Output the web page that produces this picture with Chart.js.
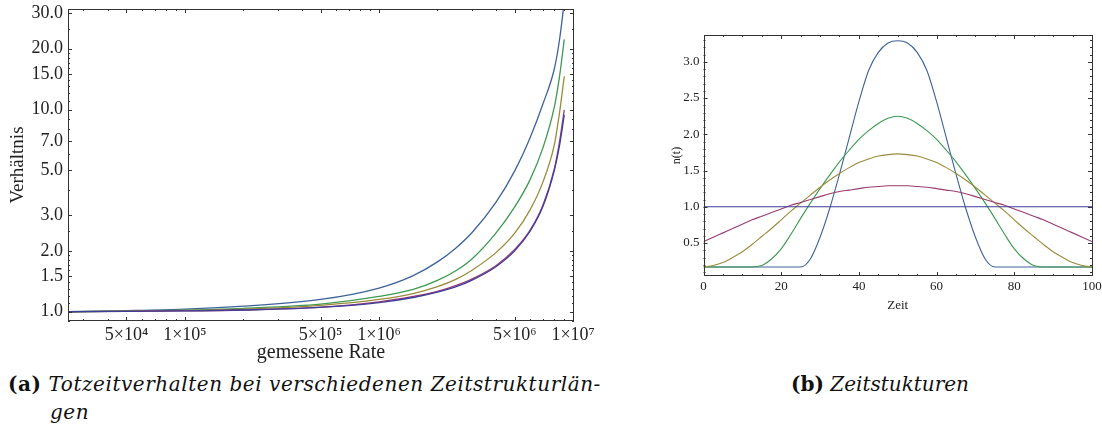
<!DOCTYPE html>
<html>
<head>
<meta charset="utf-8">
<script src="https://cdn.jsdelivr.net/npm/chart.js@4/dist/chart.umd.min.js"></script>
<style>
  body { margin: 0; background: #fff; }
  #page { position: relative; width: 1102px; height: 441px; overflow: hidden; }
  canvas { position: absolute; }
  .cap { position: absolute; font: italic 20px "DejaVu Serif", serif; color: #111; white-space: nowrap; }
  .cap b { font-style: normal; }
</style>
</head>
<body>
<div id="page">
  <canvas id="totzeit" width="600" height="370" style="left:0;top:0"></canvas>
  <canvas id="struktur" width="502" height="320" style="left:600px;top:0"></canvas>
  <div class="cap" style="left:8px;top:372px;letter-spacing:0.55px"><b>(a)</b> Totzeitverhalten bei verschiedenen Zeitstrukturlän-</div>
  <div class="cap" style="left:50px;top:400px;letter-spacing:0.55px">gen</div>
  <div class="cap" style="left:791px;top:372px"><b>(b)</b> Zeitstukturen</div>
</div>
<script>
// (a) Totzeitverhalten: Verhältnis über gemessener Rate
var rates = [2.5e4, 5e4, 1e5, 2e5, 5e5, 1e6, 1.5e6, 2e6, 2.5e6, 3e6, 4e6, 5e6, 6e6, 7e6, 8e6, 8.5e6, 9e6];
var ratioKonst  = [1.00, 1.005, 1.01, 1.02, 1.05, 1.11, 1.176, 1.25, 1.33, 1.43, 1.67, 2.00, 2.50, 3.33, 5.00, 6.60, 9.40];
var ratioSinus  = [1.00, 1.005, 1.01, 1.02, 1.055, 1.12, 1.19, 1.26, 1.35, 1.45, 1.69, 2.03, 2.53, 3.38, 5.10, 6.90, 9.95];
var ratioBreit  = [1.00, 1.007, 1.015, 1.03, 1.075, 1.15, 1.23, 1.33, 1.45, 1.60, 1.96, 2.45, 3.19, 4.40, 6.70, 9.60, 14.6];
var ratioMittel = [1.00, 1.008, 1.018, 1.04, 1.09, 1.19, 1.29, 1.43, 1.60, 1.82, 2.45, 3.30, 4.50, 6.50, 10.3, 14.5, 22.2];
var ratioSchmal = [1.00, 1.012, 1.03, 1.065, 1.15, 1.31, 1.51, 1.765, 2.075, 2.45, 3.47, 4.97, 7.25, 10.7, 15.9, 22.0, 34.0];
var rateTicks = [5e4, 1e5, 5e5, 1e6, 5e6, 1e7];
var rateTickLabels = ["5×10⁴", "1×10⁵", "5×10⁵", "1×10⁶", "5×10⁶", "1×10⁷"];
var ratioTicks = [1, 1.5, 2, 3, 5, 7, 10, 15, 20, 30];

// (b) Zeitstrukturen: n(t) über Zeit
var zeit = [0, 2.5, 5, 7.5, 10, 12.5, 15, 17.5, 20, 22.5, 25, 27.5, 30, 32.5, 35, 37.5, 40, 42.5, 45, 47.5, 50,
            52.5, 55, 57.5, 60, 62.5, 65, 67.5, 70, 72.5, 75, 77.5, 80, 82.5, 85, 87.5, 90, 92.5, 95, 97.5, 100];
var nKonst = [1,1,1,1,1,1,1,1,1,1,1,1,1,1,1,1,1,1,1,1,1, 1,1,1,1,1,1,1,1,1,1,1,1,1,1,1,1,1,1,1,1];
var nSinus = [0.52,0.58,0.64,0.70,0.76,0.82,0.87,0.92,0.97,1.02,1.06,1.10,1.14,1.18,1.21,1.23,1.25,1.27,1.28,1.29,1.29,
              1.29,1.28,1.27,1.25,1.23,1.21,1.18,1.14,1.10,1.06,1.02,0.97,0.92,0.87,0.82,0.76,0.70,0.64,0.58,0.52];
var nBreit = [0.17,0.19,0.23,0.30,0.38,0.48,0.59,0.70,0.82,0.94,1.05,1.16,1.27,1.37,1.46,1.54,1.61,1.66,1.70,1.72,1.73,
              1.72,1.70,1.66,1.61,1.54,1.46,1.37,1.27,1.16,1.05,0.94,0.82,0.70,0.59,0.48,0.38,0.30,0.23,0.19,0.17];
var nMittel = [0.17,0.17,0.17,0.17,0.17,0.17,0.19,0.28,0.42,0.62,0.84,1.05,1.25,1.44,1.62,1.78,1.93,2.05,2.15,2.22,2.25,
               2.22,2.15,2.05,1.93,1.78,1.62,1.44,1.25,1.05,0.84,0.62,0.42,0.28,0.19,0.17,0.17,0.17,0.17,0.17,0.17];
var nSchmal = [0.17,0.17,0.17,0.17,0.17,0.17,0.17,0.17,0.17,0.17,0.17,0.28,0.58,0.98,1.45,1.95,2.45,2.88,3.13,3.26,3.29,
               3.26,3.13,2.88,2.45,1.95,1.45,0.98,0.58,0.28,0.17,0.17,0.17,0.17,0.17,0.17,0.17,0.17,0.17,0.17,0.17];
var zeitTicks = [0, 20, 40, 60, 80, 100];
var nTicks = [0.5, 1.0, 1.5, 2.0, 2.5, 3.0];

var farben = ["#3F3D99", "#993D71", "#998B3D", "#3D9951", "#3D6299"];

function punkte(xs, ys) {
    return xs.map(function (x, i) { return {x: x, y: ys[i]}; });
}

function reihe(xs, ys, farbe, breite) {
    return {
        data: punkte(xs, ys),
        borderColor: farbe,
        borderWidth: breite,
        pointRadius: 0,
        fill: false,
        cubicInterpolationMode: 'monotone'
    };
}

// Rahmen mit Ticks nach innen, wie bei Mathematica
var rahmen = {
    id: 'rahmen',
    afterDatasetsDraw: function (chart, args, o) {
        var ctx = chart.ctx, a = chart.chartArea, sx = chart.scales.x, sy = chart.scales.y;
        ctx.save();
        ctx.strokeStyle = '#333';
        ctx.lineWidth = 1;
        ctx.beginPath();
        function xMarks(vals, len) {
            vals.forEach(function (v) {
                if (v < sx.min || v > sx.max) return;
                var p = Math.round(sx.getPixelForValue(v)) + 0.5;
                ctx.moveTo(p, a.bottom); ctx.lineTo(p, a.bottom - len);
                ctx.moveTo(p, a.top); ctx.lineTo(p, a.top + len);
            });
        }
        function yMarks(vals, len) {
            vals.forEach(function (v) {
                if (v < sy.min || v > sy.max) return;
                var p = Math.round(sy.getPixelForValue(v)) + 0.5;
                ctx.moveTo(a.left, p); ctx.lineTo(a.left + len, p);
                ctx.moveTo(a.right, p); ctx.lineTo(a.right - len, p);
            });
        }
        xMarks(o.xMajor, 4); xMarks(o.xMinor, 2);
        yMarks(o.yMajor, 4); yMarks(o.yMinor, 2);
        ctx.stroke();
        ctx.strokeRect(Math.round(a.left) + 0.5, Math.round(a.top) + 0.5,
                       Math.round(a.right - a.left) - 1, Math.round(a.bottom - a.top) - 1);
        ctx.restore();
    }
};

var serif = 'Liberation Serif, DejaVu Serif, serif';
var schriftA = {family: serif, size: 18};
var schriftB = {family: serif, size: 13};

var rateMinor = [3e4,4e4,6e4,7e4,8e4,9e4, 2e5,3e5,4e5,6e5,7e5,8e5,9e5, 2e6,3e6,4e6,6e6,7e6,8e6,9e6];
var ratioMinor = [0.9,1.1,1.2,1.3,1.4,1.6,1.7,1.8,1.9,2.5,4,6,8,9,11,12,13,14,16,17,18,19,25];

new Chart(document.getElementById('totzeit').getContext('2d'), {
    type: 'line',
    data: {
        datasets: [
            reihe(rates, ratioKonst, farben[0], 1.3),
            reihe(rates, ratioSinus, farben[1], 1.3),
            reihe(rates, ratioBreit, farben[2], 1.3),
            reihe(rates, ratioMittel, farben[3], 1.3),
            reihe(rates, ratioSchmal, farben[4], 1.3)
        ]
    },
    options: {
        responsive: false,
        animation: false,
        layout: {padding: {top: 9, right: 26, left: 0, bottom: 0}},
        plugins: {
            legend: {display: false},
            tooltip: {enabled: false},
            rahmen: {xMajor: rateTicks, xMinor: rateMinor, yMajor: ratioTicks, yMinor: ratioMinor}
        },
        scales: {
            x: {
                type: 'logarithmic', min: 2.5e4, max: 1.01e7,
                grid: {display: false, drawTicks: false},
                border: {display: false},
                afterBuildTicks: function (s) { s.ticks = rateTicks.map(function (v) { return {value: v}; }); },
                afterFit: function (s) { s.height = 49; s.paddingLeft = 0; s.paddingRight = 0; },
                ticks: {
                    autoSkip: false, maxRotation: 0, padding: 3, color: '#222', font: schriftA,
                    callback: function (v, i) { return rateTickLabels[i]; }
                },
                title: {display: true, text: 'gemessene Rate', color: '#222',
                        font: {family: serif, size: 20}, padding: {top: 0, bottom: 5}}
            },
            y: {
                type: 'logarithmic', min: 0.9, max: 31.4,
                grid: {display: false, drawTicks: false},
                border: {display: false},
                afterBuildTicks: function (s) { s.ticks = ratioTicks.map(function (v) { return {value: v}; }); },
                afterFit: function (s) { s.width = 68; s.paddingTop = 0; s.paddingBottom = 0; },
                ticks: {
                    autoSkip: false, padding: 5, color: '#222', font: schriftA,
                    callback: function (v) { return Number(v).toFixed(1); }
                },
                title: {display: true, text: 'Verhältnis', color: '#222',
                        font: {family: serif, size: 19}, padding: {top: 7, bottom: 0}}
            }
        }
    },
    plugins: [rahmen]
});

var zeitMinor = [5,10,15,25,30,35,45,50,55,65,70,75,85,90,95];
var nMinor = [0.1,0.2,0.3,0.4,0.6,0.7,0.8,0.9,1.1,1.2,1.3,1.4,1.6,1.7,1.8,1.9,2.1,2.2,2.3,2.4,2.6,2.7,2.8,2.9,3.1,3.2,3.3];

new Chart(document.getElementById('struktur').getContext('2d'), {
    type: 'line',
    data: {
        datasets: [
            reihe(zeit, nKonst, farben[0], 1.1),
            reihe(zeit, nSinus, farben[1], 1.1),
            reihe(zeit, nBreit, farben[2], 1.1),
            reihe(zeit, nMittel, farben[3], 1.1),
            reihe(zeit, nSchmal, farben[4], 1.1)
        ]
    },
    options: {
        responsive: false,
        animation: false,
        layout: {padding: {top: 35, right: 10, left: 0, bottom: 0}},
        plugins: {
            legend: {display: false},
            tooltip: {enabled: false},
            rahmen: {xMajor: zeitTicks, xMinor: zeitMinor, yMajor: nTicks, yMinor: nMinor}
        },
        scales: {
            x: {
                type: 'linear', min: 0, max: 100,
                grid: {display: false, drawTicks: false},
                border: {display: false},
                afterBuildTicks: function (s) { s.ticks = zeitTicks.map(function (v) { return {value: v}; }); },
                afterFit: function (s) { s.height = 44; s.paddingLeft = 0; s.paddingRight = 0; },
                ticks: {autoSkip: false, maxRotation: 0, padding: 3, color: '#222', font: schriftB},
                title: {display: true, text: 'Zeit', color: '#222',
                        font: {family: serif, size: 13}, padding: {top: 0, bottom: 7}}
            },
            y: {
                type: 'linear', min: 0.045, max: 3.37,
                grid: {display: false, drawTicks: false},
                border: {display: false},
                afterBuildTicks: function (s) { s.ticks = nTicks.map(function (v) { return {value: v}; }); },
                afterFit: function (s) { s.width = 103.5; s.paddingTop = 0; s.paddingBottom = 0; },
                ticks: {
                    autoSkip: false, padding: 4, color: '#222', font: schriftB,
                    callback: function (v) { return Number(v).toFixed(1); }
                },
                title: {display: true, text: 'n(t)', color: '#222',
                        font: {family: serif, size: 12}, padding: {top: 70, bottom: 0}}
            }
        }
    },
    plugins: [rahmen]
});
</script>
</body>
</html>
